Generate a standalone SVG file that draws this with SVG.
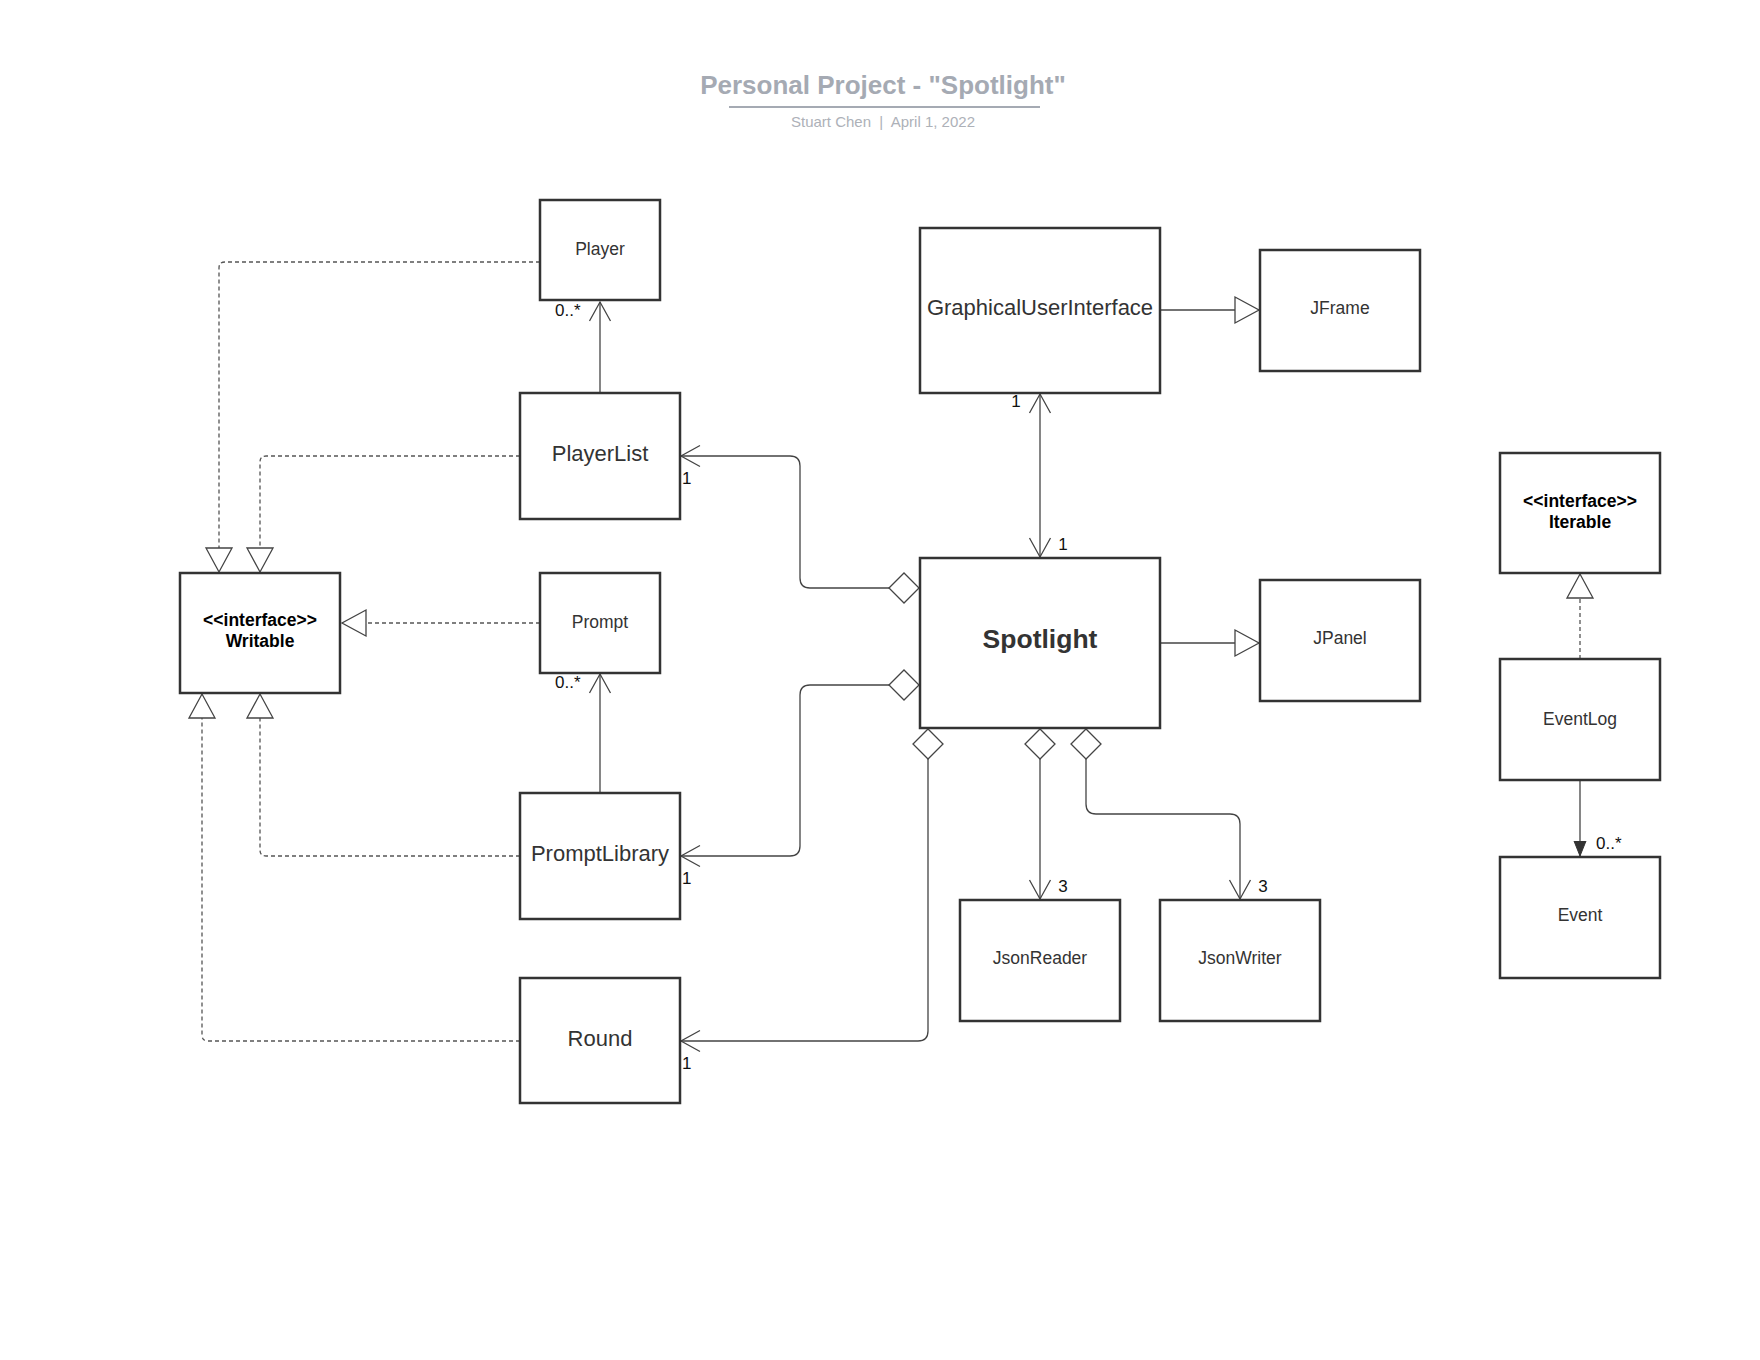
<svg xmlns="http://www.w3.org/2000/svg" width="1760" height="1360" viewBox="0 0 1760 1360">
<style>
  .box{fill:#fff;stroke:#333;stroke-width:2.5}
  .lbl{font-family:"Liberation Sans",Arial,sans-serif;fill:#333;text-anchor:middle;font-size:17.5px}
  .big{font-size:22px}
  .hero{font-size:26.5px;font-weight:bold}
  .iface{font-family:"Liberation Sans",Arial,sans-serif;fill:#000;text-anchor:middle;font-size:17.5px;font-weight:bold}
  .mult{font-family:"Liberation Sans",Arial,sans-serif;fill:#111;font-size:17px}
  .solid{fill:none;stroke:#444;stroke-width:1.3}
  .dash{fill:none;stroke:#555;stroke-width:1.3;stroke-dasharray:4 3}
</style>
<defs>
  <marker id="open" markerUnits="userSpaceOnUse" markerWidth="24" markerHeight="24" viewBox="0 0 24 24" refX="21" refY="12" orient="auto-start-reverse">
    <path d="M2,1.5 L21,12 L2,22.5" fill="none" stroke="#444" stroke-width="1.3"/>
  </marker>
  <marker id="tri" markerUnits="userSpaceOnUse" markerWidth="28" markerHeight="30" viewBox="0 0 28 30" refX="25" refY="15" orient="auto">
    <path d="M1,2 L25,15 L1,28 Z" fill="#fff" stroke="#444" stroke-width="1.3"/>
  </marker>
  <marker id="dia" markerUnits="userSpaceOnUse" markerWidth="32" markerHeight="32" viewBox="0 0 32 32" refX="31" refY="16" orient="auto-start-reverse">
    <path d="M1,16 L16,1 L31,16 L16,31 Z" fill="#fff" stroke="#444" stroke-width="1.3"/>
  </marker>
  <marker id="fill" markerUnits="userSpaceOnUse" markerWidth="16" markerHeight="16" viewBox="0 0 16 16" refX="15" refY="8" orient="auto">
    <path d="M0,2 L15,8 L0,14 Z" fill="#333" stroke="#333" stroke-width="1"/>
  </marker>
</defs>

<g id="title">
  <text x="883" y="94" font-family="'Liberation Sans',Arial,sans-serif" font-size="26" font-weight="bold" fill="#a5aab3" text-anchor="middle">Personal Project - "Spotlight"</text>
  <line x1="729" y1="107" x2="1040" y2="107" stroke="#a5aab3" stroke-width="2"/>
  <text x="883" y="127" font-family="'Liberation Sans',Arial,sans-serif" font-size="15" fill="#adb1b8" text-anchor="middle" style="white-space:pre">Stuart Chen  |  April 1, 2022</text>
</g>

<g id="connectors">
  <path class="dash" d="M540,262 H225 Q219,262 219,268 V572" marker-end="url(#tri)"/>
  <path class="dash" d="M520,456 H266 Q260,456 260,462 V572" marker-end="url(#tri)"/>
  <path class="dash" d="M540,623 H342" marker-end="url(#tri)"/>
  <path class="dash" d="M520,856 H266 Q260,856 260,850 V694" marker-end="url(#tri)"/>
  <path class="dash" d="M520,1041 H208 Q202,1041 202,1035 V694" marker-end="url(#tri)"/>
  <path class="solid" d="M600,393 V302" marker-end="url(#open)"/>
  <path class="solid" d="M600,793 V674" marker-end="url(#open)"/>
  <path class="solid" d="M919,588 H810 Q800,588 800,578 V466 Q800,456 790,456 H681" marker-start="url(#dia)" marker-end="url(#open)"/>
  <path class="solid" d="M919,685 H810 Q800,685 800,695 V846 Q800,856 790,856 H681" marker-start="url(#dia)" marker-end="url(#open)"/>
  <path class="solid" d="M928,729 V1031 Q928,1041 918,1041 H681" marker-start="url(#dia)" marker-end="url(#open)"/>
  <path class="solid" d="M1040,729 V899" marker-start="url(#dia)" marker-end="url(#open)"/>
  <path class="solid" d="M1086,729 V804 Q1086,814 1096,814 H1230 Q1240,814 1240,824 V899" marker-start="url(#dia)" marker-end="url(#open)"/>
  <path class="solid" d="M1040,394 V557" marker-start="url(#open)" marker-end="url(#open)"/>
  <path class="solid" d="M1161,310 H1259" marker-end="url(#tri)"/>
  <path class="solid" d="M1161,643 H1259" marker-end="url(#tri)"/>
  <path class="dash" d="M1580,659 V574" marker-end="url(#tri)"/>
  <path class="solid" d="M1580,781 V856" marker-end="url(#fill)"/>
  <text class="mult" x="555" y="316">0..*</text>
  <text class="mult" x="555" y="688">0..*</text>
  <text class="mult" x="682" y="484">1</text>
  <text class="mult" x="682" y="884">1</text>
  <text class="mult" x="682" y="1069">1</text>
  <text class="mult" x="1016" y="407" text-anchor="middle">1</text>
  <text class="mult" x="1063" y="550" text-anchor="middle">1</text>
  <text class="mult" x="1063" y="892" text-anchor="middle">3</text>
  <text class="mult" x="1263" y="892" text-anchor="middle">3</text>
  <text class="mult" x="1596" y="849">0..*</text>
</g>

<g id="Player"><rect class="box" x="540" y="200" width="120" height="100"/><text class="lbl" x="600" y="255">Player</text></g>
<g id="PlayerList"><rect class="box" x="520" y="393" width="160" height="126"/><text class="lbl big" x="600" y="461">PlayerList</text></g>
<g id="Writable"><rect class="box" x="180" y="573" width="160" height="120"/><text class="iface" x="260" y="626">&lt;&lt;interface&gt;&gt;</text><text class="iface" x="260" y="647">Writable</text></g>
<g id="Prompt"><rect class="box" x="540" y="573" width="120" height="100"/><text class="lbl" x="600" y="628">Prompt</text></g>
<g id="PromptLibrary"><rect class="box" x="520" y="793" width="160" height="126"/><text class="lbl big" x="600" y="861">PromptLibrary</text></g>
<g id="Round"><rect class="box" x="520" y="978" width="160" height="125"/><text class="lbl big" x="600" y="1046">Round</text></g>
<g id="GraphicalUserInterface"><rect class="box" x="920" y="228" width="240" height="165"/><text class="lbl big" x="1040" y="315">GraphicalUserInterface</text></g>
<g id="JFrame"><rect class="box" x="1260" y="250" width="160" height="121"/><text class="lbl" x="1340" y="314">JFrame</text></g>
<g id="Spotlight"><rect class="box" x="920" y="558" width="240" height="170"/><text class="lbl hero" x="1040" y="648">Spotlight</text></g>
<g id="JPanel"><rect class="box" x="1260" y="580" width="160" height="121"/><text class="lbl" x="1340" y="644">JPanel</text></g>
<g id="JsonReader"><rect class="box" x="960" y="900" width="160" height="121"/><text class="lbl" x="1040" y="964">JsonReader</text></g>
<g id="JsonWriter"><rect class="box" x="1160" y="900" width="160" height="121"/><text class="lbl" x="1240" y="964">JsonWriter</text></g>
<g id="Iterable"><rect class="box" x="1500" y="453" width="160" height="120"/><text class="iface" x="1580" y="507">&lt;&lt;interface&gt;&gt;</text><text class="iface" x="1580" y="528">Iterable</text></g>
<g id="EventLog"><rect class="box" x="1500" y="659" width="160" height="121"/><text class="lbl" x="1580" y="725">EventLog</text></g>
<g id="Event"><rect class="box" x="1500" y="857" width="160" height="121"/><text class="lbl" x="1580" y="921">Event</text></g>
</svg>
